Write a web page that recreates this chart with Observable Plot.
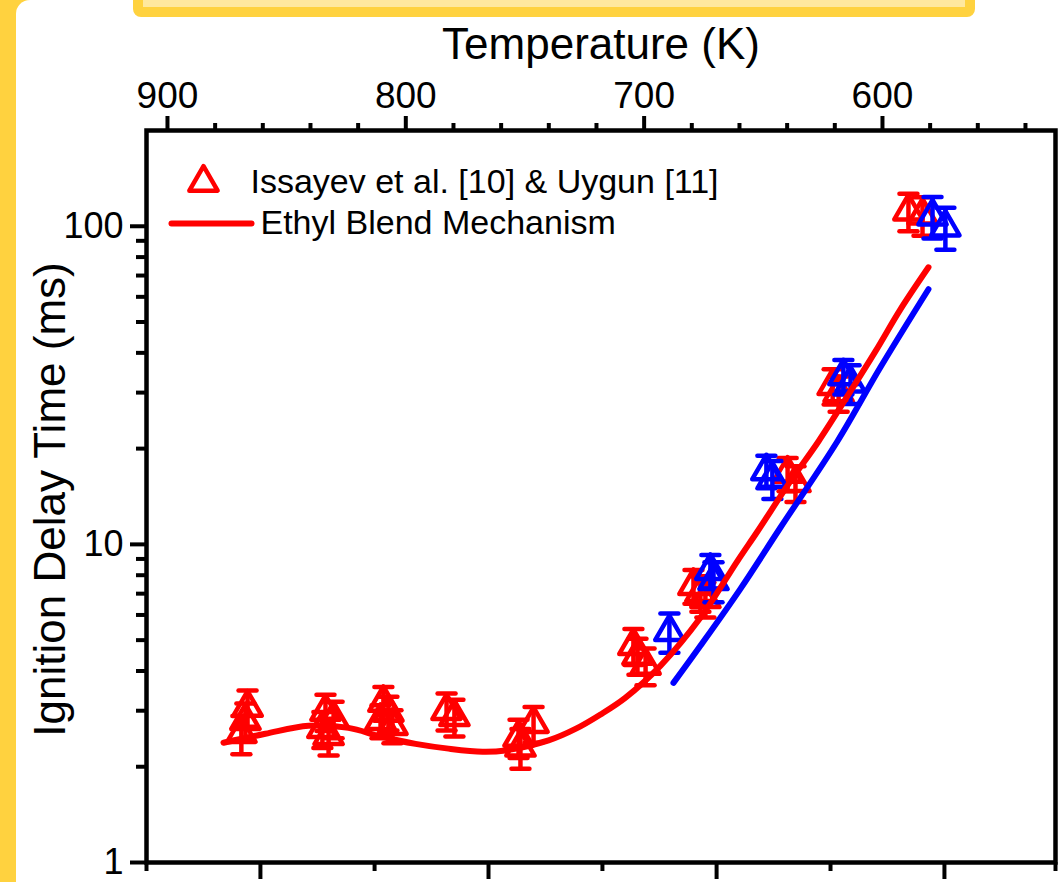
<!DOCTYPE html>
<html>
<head>
<meta charset="utf-8">
<script src="https://cdn.jsdelivr.net/npm/d3@7"></script>
<script src="https://cdn.jsdelivr.net/npm/@observablehq/plot@0.6"></script>
<style>
  html, body { margin: 0; padding: 0; }
  body { width: 1058px; height: 882px; overflow: hidden; position: relative; background: #FFD23F; font-family: "Liberation Sans", Arial, sans-serif; }
  #panel { position: absolute; left: 16px; top: 0; width: 1100px; height: 920px; background: #ffffff; border-top-left-radius: 14px; }
  #banner { position: absolute; left: 133px; top: -20px; width: 842px; height: 37px; box-sizing: border-box; background: #FFE89E; border: 10px solid #FFD23F; border-radius: 8px; }
  #chart { position: absolute; left: 0; top: 0; }
</style>
</head>
<body>
<div id="panel"></div>
<div id="banner"></div>
<div id="chart"></div>
<script>
// ---------- data ----------
// Experimental points: Issayev et al. [10] & Uygun [11] (red)
const redT   = [866.4, 867.3, 869.0, 833.7, 830.3, 835.0, 832.4, 809.4, 807.3, 810.6, 805.6, 782.9, 779.6, 746.4, 752.7, 751.9, 704.5, 702.8, 699.4, 679.3, 676.4, 674.3, 639.8, 636.5, 620.9, 618.4, 589.1, 583.2];
const redTau = [3.07, 2.79, 2.54, 2.98, 2.83, 2.63, 2.50, 3.18, 2.96, 2.79, 2.69, 3.00, 2.87, 2.73, 2.47, 2.30, 4.80, 4.47, 4.16, 7.41, 7.04, 6.74, 16.7, 15.6, 31.5, 29.9, 111.5, 108.3];
const redErr = [0.40, 0.37, 0.35, 0.39, 0.37, 0.34, 0.33, 0.38, 0.36, 0.33, 0.32, 0.40, 0.38, 0.35, 0.34, 0.33, 0.62, 0.58, 0.55, 0.90, 0.90, 0.85, 2.0, 2.0, 4.0, 3.8, 15, 15];

// Experimental points (blue)
const blueT   = [689.4, 672.2, 670.9, 648.7, 646.2, 616.4, 613.4, 579.0, 573.6];
const blueTau = [5.31, 8.26, 7.68, 17.0, 16.1, 33.8, 32.1, 107.5, 99.3];
const blueErr = [0.75, 1.0, 1.1, 2.0, 2.2, 4.2, 4.5, 16, 15];

// Ethyl Blend Mechanism (red curve)
const redLineT   = [876.5, 858.9, 840.8, 824.1, 810.6, 795.9, 782.1, 767.8, 758.2, 740.1, 728.8, 718.3, 707.8, 693.1, 676.4, 660.8, 652.4, 638.6, 626.8, 613.4, 602.9, 592.4, 580.7];
const redLineTau = [2.38, 2.54, 2.69, 2.65, 2.49, 2.36, 2.28, 2.23, 2.25, 2.42, 2.63, 2.92, 3.30, 4.16, 5.88, 8.88, 11.0, 15.8, 21.1, 30.3, 40.5, 54.9, 74.3];

// blue simulation curve
const blueLineT   = [687.7, 676.4, 659.6, 642.8, 618.9, 600.8, 580.7];
const blueLineTau = [3.67, 4.80, 7.25, 11.3, 21.1, 36.1, 63.4];

// axes
const xDomain = [908.8, 527.4];
const yDomain = [1, 200];
const topMajor = [900, 800, 700, 600];
const topMinor = [880, 860, 840, 820, 780, 760, 740, 720, 680, 660, 640, 620, 580, 560, 540];
const bottomMajor = [861.0, 765.3, 669.6, 574.0];
const bottomMinor = [908.8, 813.1, 717.5, 621.8, 527.4];
const yMajor = [1, 10, 100];
const yMinor = [2, 3, 4, 5, 6, 7, 8, 9, 20, 30, 40, 50, 60, 70, 80, 90];

const legendLabels = ["Issayev et al. [10] & Uygun [11]", "Ethyl Blend Mechanism"];
const xTitle = "Temperature (K)";
const yTitle = "Ignition Delay Time (ms)";

// ---------- build ----------
const RED = "#ff0000", BLUE = "#0000ff";
const redPts = redT.map((T, i) => ({T, tau: redTau[i], err: redErr[i]}));
const bluePts = blueT.map((T, i) => ({T, tau: blueTau[i], err: blueErr[i]}));
const redLine = redLineT.map((T, i) => ({T, tau: redLineTau[i]}));
const blueLine = blueLineT.map((T, i) => ({T, tau: blueLineTau[i]}));

const hline = {draw(ctx, size) { const w = Math.sqrt(size / Math.PI); ctx.moveTo(-w, 0); ctx.lineTo(w, 0); }};

function pointMarks(data, color) {
  return [
    Plot.ruleX(data, {x: "T", y1: d => d.tau - d.err, y2: d => d.tau + d.err, stroke: color, strokeWidth: 4.5}),
    Plot.dot(data, {x: "T", y: d => d.tau + d.err, symbol: hline, r: 9, stroke: color, fill: "none", strokeWidth: 4.5, strokeLinecap: "round"}),
    Plot.dot(data, {x: "T", y: d => d.tau - d.err, symbol: hline, r: 9, stroke: color, fill: "none", strokeWidth: 4.5, strokeLinecap: "round"}),
    Plot.dot(data, {x: "T", y: "tau", symbol: "triangle", r: 10.5, stroke: color, fill: "none", strokeWidth: 4.5, strokeLinejoin: "round"})
  ];
}

const chart = Plot.plot({
  width: 1058,
  height: 882,
  marginLeft: 146,
  marginRight: 3,
  marginTop: 130,
  marginBottom: 20,
  style: {fontFamily: "'Liberation Sans', Arial, sans-serif", background: "transparent", overflow: "visible", color: "black"},
  x: {domain: xDomain, label: null},
  y: {type: "log", domain: yDomain, label: null},
  marks: [
    // axes
    Plot.axisX({anchor: "top", ticks: topMajor, tickSize: 15, tickPadding: 8, fontSize: 37, tickFormat: d => String(d), strokeWidth: 4, label: null}),
    Plot.axisX({anchor: "top", ticks: topMinor, tickSize: 8, tickFormat: () => "", strokeWidth: 4, label: null}),
    Plot.axisX({anchor: "bottom", ticks: bottomMajor, tickSize: 17, tickFormat: () => "", strokeWidth: 4, label: null}),
    Plot.axisX({anchor: "bottom", ticks: bottomMinor, tickSize: 9, tickFormat: () => "", strokeWidth: 4, label: null}),
    Plot.axisY({anchor: "left", ticks: yMajor, tickSize: 16, tickPadding: 7, fontSize: 36, tickFormat: d => String(d), strokeWidth: 4, label: null}),
    Plot.axisY({anchor: "left", ticks: yMinor, tickSize: 10, tickFormat: () => "", strokeWidth: 4, label: null}),
    // titles
    Plot.text([xTitle], {text: d => d, frameAnchor: "top", dy: -86, fontSize: 44, textAnchor: "middle", lineAnchor: "middle", fill: "black"}),
    Plot.text([yTitle], {text: d => d, frameAnchor: "left", dx: -96, dy: 3, rotate: -90, fontSize: 44, textAnchor: "middle", lineAnchor: "middle", fill: "black"}),
    // data
    ...pointMarks(redPts, RED),
    ...pointMarks(bluePts, BLUE),
    Plot.line(blueLine, {x: "T", y: "tau", stroke: BLUE, strokeWidth: 6, curve: "catmull-rom", strokeLinecap: "round"}),
    Plot.line(redLine, {x: "T", y: "tau", stroke: RED, strokeWidth: 6, curve: "catmull-rom", strokeLinecap: "round"}),
    // legend
    Plot.dot([legendLabels[0]], {frameAnchor: "top-left", dx: 57, dy: 52, symbol: "triangle", r: 10.5, stroke: RED, fill: "none", strokeWidth: 4.5, strokeLinejoin: "round"}),
    Plot.text([legendLabels[0]], {text: d => d, frameAnchor: "top-left", dx: 104, dy: 52, textAnchor: "start", lineAnchor: "middle", fontSize: 34, fill: "black"}),
    Plot.dot([legendLabels[1]], {frameAnchor: "top-left", dx: 65, dy: 93, symbol: hline, r: 40, stroke: RED, fill: "none", strokeWidth: 6, strokeLinecap: "round"}),
    Plot.text([legendLabels[1]], {text: d => d, frameAnchor: "top-left", dx: 114, dy: 93, textAnchor: "start", lineAnchor: "middle", fontSize: 34, fill: "black"}),
    // frame
    Plot.frame({stroke: "black", strokeWidth: 4.5})
  ]
});
document.getElementById("chart").appendChild(chart);
</script>
</body>
</html>
